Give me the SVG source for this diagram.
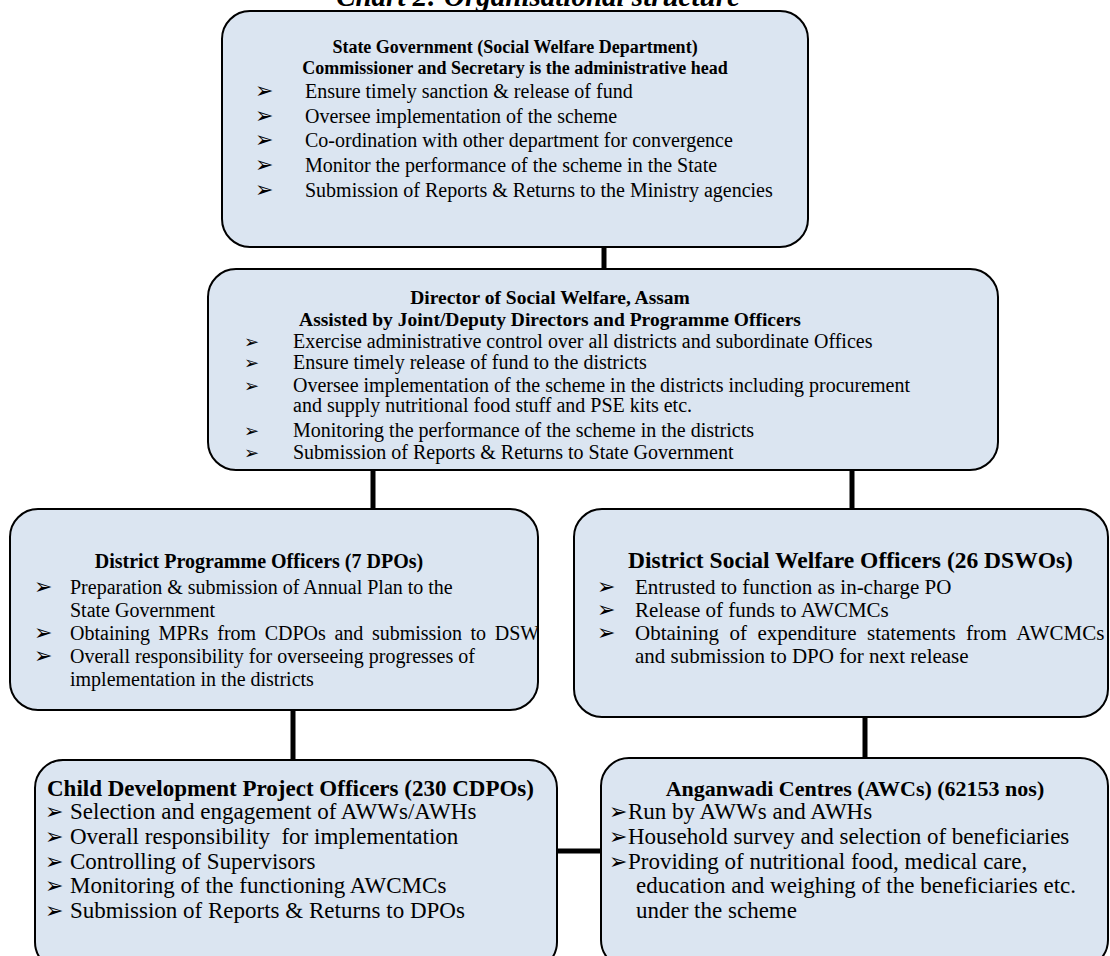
<svg xmlns="http://www.w3.org/2000/svg" width="1110" height="956" viewBox="0 0 1110 956">
<style>
.box{fill:#dbe5f1;stroke:#000;stroke-width:2}
.t{font-family:"Liberation Serif","Times New Roman",serif;font-size:20px;fill:#000}
.b{font-weight:bold}
.c{text-anchor:middle}
.blt{font-family:"DejaVu Sans",sans-serif;font-size:22px}
.bs{font-family:"DejaVu Sans",sans-serif;font-size:18px}
.con{stroke:#000;stroke-width:5;fill:none}
.big{font-size:23px}
</style>
<defs>
<clipPath id="clipDpo"><rect x="10" y="509" width="527" height="201" rx="28"/></clipPath>
</defs>
<rect width="1110" height="956" fill="#fff"/>
<text class="t b c" x="538" y="6" style="font-style:italic;font-size:29px">Chart 2: Organisational structure</text>

<g id="connectors">
<line class="con" x1="604" y1="247" x2="604" y2="269"/>
<line class="con" x1="373" y1="470" x2="373" y2="509"/>
<line class="con" x1="852" y1="470" x2="852" y2="509"/>
<line class="con" x1="293" y1="710" x2="293" y2="760"/>
<line class="con" x1="865" y1="717" x2="865" y2="758"/>
<line class="con" x1="557" y1="851" x2="601" y2="851"/>
</g>

<g id="state-government">
<rect class="box" x="222" y="11" width="586" height="236" rx="28"/>
<text class="t b c" x="515" y="53" style="font-size:18px">State Government (Social Welfare Department)</text>
<text class="t b c" x="515" y="74" style="font-size:18px">Commissioner and Secretary is the administrative head</text>
<text class="t"><tspan class="blt" x="255" y="98">➢</tspan><tspan x="305" y="98">Ensure timely sanction &amp; release of fund</tspan></text>
<text class="t"><tspan class="blt" x="255" y="123">➢</tspan><tspan x="305" y="123">Oversee implementation of the scheme</tspan></text>
<text class="t"><tspan class="blt" x="255" y="147">➢</tspan><tspan x="305" y="147">Co-ordination with other department for convergence</tspan></text>
<text class="t"><tspan class="blt" x="255" y="172">➢</tspan><tspan x="305" y="172">Monitor the performance of the scheme in the State</tspan></text>
<text class="t"><tspan class="blt" x="255" y="197">➢</tspan><tspan x="305" y="197">Submission of Reports &amp; Returns to the Ministry agencies</tspan></text>
</g>

<g id="director">
<rect class="box" x="208" y="269" width="790" height="201" rx="28"/>
<text class="t b c" x="550" y="304" style="font-size:19.5px">Director of Social Welfare, Assam</text>
<text class="t b c" x="550" y="326" style="font-size:19.5px">Assisted by Joint/Deputy Directors and Programme Officers</text>
<text class="t"><tspan class="bs" x="244" y="348">➢</tspan><tspan x="293" y="348">Exercise administrative control over all districts and subordinate Offices</tspan></text>
<text class="t"><tspan class="bs" x="244" y="369">➢</tspan><tspan x="293" y="369">Ensure timely release of fund to the districts</tspan></text>
<text class="t"><tspan class="bs" x="244" y="392">➢</tspan><tspan x="293" y="392">Oversee implementation of the scheme in the districts including procurement</tspan></text>
<text class="t" x="293" y="412">and supply nutritional food stuff and PSE kits etc.</text>
<text class="t"><tspan class="bs" x="244" y="437">➢</tspan><tspan x="293" y="437">Monitoring the performance of the scheme in the districts</tspan></text>
<text class="t"><tspan class="bs" x="244" y="459">➢</tspan><tspan x="293" y="459">Submission of Reports &amp; Returns to State Government</tspan></text>
</g>

<g id="dpo">
<rect class="box" x="10" y="509" width="528" height="201" rx="28"/>
<text class="t b c" x="259" y="568">District Programme Officers (7 DPOs)</text>
<text class="t"><tspan class="blt" x="34" y="594">➢</tspan><tspan x="70" y="594">Preparation &amp; submission of Annual Plan to the</tspan></text>
<text class="t" x="70" y="617">State Government</text>
<text class="t" clip-path="url(#clipDpo)"><tspan class="blt" x="34" y="640">➢</tspan><tspan x="70" y="640" word-spacing="3.6">Obtaining MPRs from CDPOs and submission to DSW</tspan></text>
<text class="t"><tspan class="blt" x="34" y="663">➢</tspan><tspan x="70" y="663">Overall responsibility for overseeing progresses of</tspan></text>
<text class="t" x="70" y="686">implementation in the districts</text>
</g>

<g id="dswo">
<rect class="box" x="574" y="509" width="534" height="208" rx="28"/>
<text class="t b" x="628" y="568" style="font-size:23.5px">District Social Welfare Officers (26 DSWOs)</text>
<text class="t" style="font-size:21px"><tspan class="blt" x="597" y="594">➢</tspan><tspan x="635" y="594">Entrusted to function as in-charge PO</tspan></text>
<text class="t" style="font-size:21px"><tspan class="blt" x="597" y="617">➢</tspan><tspan x="635" y="617">Release of funds to AWCMCs</tspan></text>
<text class="t" style="font-size:21px"><tspan class="blt" x="597" y="640">➢</tspan><tspan x="635" y="640" word-spacing="5.2">Obtaining of expenditure statements from AWCMCs</tspan></text>
<text class="t" style="font-size:21px" x="635" y="663">and submission to DPO for next release</text>
</g>

<g id="cdpo">
<rect class="box" x="35" y="760" width="522" height="210" rx="28"/>
<text class="t b" x="47" y="796" style="font-size:23px">Child Development Project Officers (230 CDPOs)</text>
<text class="t big"><tspan class="blt" x="45" y="819">➢</tspan><tspan x="70" y="819">Selection and engagement of AWWs/AWHs</tspan></text>
<text class="t big"><tspan class="blt" x="45" y="844">➢</tspan><tspan x="70" y="844" xml:space="preserve">Overall responsibility  for implementation</tspan></text>
<text class="t big"><tspan class="blt" x="45" y="869">➢</tspan><tspan x="70" y="869">Controlling of Supervisors</tspan></text>
<text class="t big"><tspan class="blt" x="45" y="893">➢</tspan><tspan x="70" y="893">Monitoring of the functioning AWCMCs</tspan></text>
<text class="t big"><tspan class="blt" x="45" y="918">➢</tspan><tspan x="70" y="918">Submission of Reports &amp; Returns to DPOs</tspan></text>
</g>

<g id="awc">
<rect class="box" x="601" y="758" width="507" height="210" rx="28"/>
<text class="t b c" x="855" y="796" style="font-size:22px">Anganwadi Centres (AWCs) (62153 nos)</text>
<text class="t big"><tspan class="blt" x="609" y="819">➢</tspan><tspan x="628" y="819">Run by AWWs and AWHs</tspan></text>
<text class="t big"><tspan class="blt" x="609" y="844">➢</tspan><tspan x="628" y="844">Household survey and selection of beneficiaries</tspan></text>
<text class="t big"><tspan class="blt" x="609" y="869">➢</tspan><tspan x="628" y="869">Providing of nutritional food, medical care,</tspan></text>
<text class="t big" x="636" y="893">education and weighing of the beneficiaries etc.</text>
<text class="t big" x="636" y="918">under the scheme</text>
</g>
</svg>
